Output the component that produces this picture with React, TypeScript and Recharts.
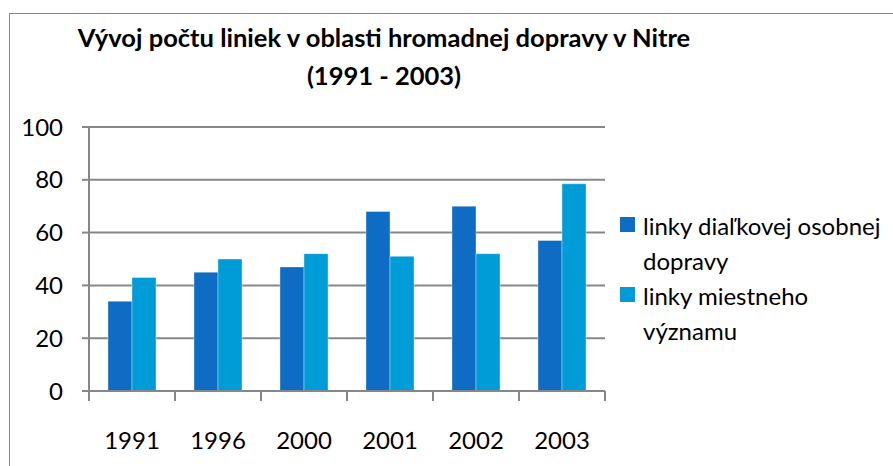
import React from "react";
import { BarChart, Bar, XAxis, YAxis, CartesianGrid, Legend } from "recharts";

const years = ["1991", "1996", "2000", "2001", "2002", "2003"];
const dialkove = [34, 45, 47, 68, 70, 57];
const miestne = [43, 50, 52, 51, 52, 78.5];
const yTicks = [0, 20, 40, 60, 80, 100];
const seriesNames = ["linky diaľkovej osobnej dopravy", "linky miestneho významu"];
const titleLines = [
  "Vývoj počtu liniek v oblasti hromadnej dopravy v Nitre",
  "(1991 - 2003)",
];

const data = years.map((year, i) => ({
  year,
  dialkove: dialkove[i],
  miestne: miestne[i],
}));

const W = 893;
const H = 466;
const PLOT_LEFT = 89;
const PLOT_TOP = 127;
const PLOT_RIGHT = 605;
const PLOT_BOTTOM = 391;
const GREY = "#878787";
const FONT = "Lato, 'Open Sans', sans-serif";
const COLORS = ["#0F6CC5", "#009CD8"];
const BAND = (PLOT_RIGHT - PLOT_LEFT) / years.length;

// Excel style: tick marks sit between the categories, labels in the middle
const XTick = (props: any) => {
  const { x, y, payload, index } = props;
  const last = index === years.length - 1;
  return (
    <g>
      <line
        x1={x - BAND / 2}
        x2={x - BAND / 2}
        y1={PLOT_BOTTOM}
        y2={PLOT_BOTTOM + 10}
        stroke={GREY}
        strokeWidth={2}
      />
      {last && (
        <line
          x1={x + BAND / 2}
          x2={x + BAND / 2}
          y1={PLOT_BOTTOM}
          y2={PLOT_BOTTOM + 10}
          stroke={GREY}
          strokeWidth={2}
        />
      )}
      <text
        x={x}
        y={y}
        dy="0.71em"
        textAnchor="middle"
        fill="#000"
        fontSize={24}
        fontFamily={FONT}
      >
        {payload.value}
      </text>
    </g>
  );
};

const LegendContent = (props: any) => {
  const { payload = [] } = props;
  return (
    <div style={{ fontFamily: FONT, fontSize: 24, lineHeight: "35px", color: "#000" }}>
      {payload.map((entry: any) => (
        <div key={entry.value} style={{ display: "flex", alignItems: "flex-start" }}>
          <span
            style={{
              width: 15,
              height: 15,
              background: entry.color,
              marginTop: 9,
              marginRight: 8,
              flexShrink: 0,
            }}
          />
          <span style={{ width: 250 }}>{entry.value}</span>
        </div>
      ))}
    </div>
  );
};

export default function App() {
  return (
    <div
      style={{
        position: "absolute",
        left: 0,
        top: 0,
        width: W,
        height: H,
        overflow: "hidden",
        background: "#fff",
      }}
    >
      <div
        style={{
          position: "absolute",
          left: 9,
          top: 13,
          width: W,
          height: H,
          borderLeft: `1px solid ${GREY}`,
          borderTop: `1px solid ${GREY}`,
        }}
      />
      {titleLines.map((line, i) => (
        <div
          key={line}
          style={{
            position: "absolute",
            left: 34,
            width: 700,
            top: 18 + i * 38,
            lineHeight: "38px",
            textAlign: "center",
            fontFamily: FONT,
            fontWeight: 700,
            fontSize: 25.5,
            color: "#000",
          }}
        >
          {line}
        </div>
      ))}
      <BarChart
        width={W}
        height={H}
        data={data}
        margin={{ top: PLOT_TOP, right: W - PLOT_RIGHT, bottom: 0, left: 0 }}
        barCategoryGap={19}
        barGap={0}
      >
        <CartesianGrid vertical={false} stroke={GREY} strokeWidth={2} />
        <XAxis
          dataKey="year"
          height={H - PLOT_BOTTOM}
          axisLine={{ stroke: GREY, strokeWidth: 2 }}
          tickLine={false}
          tickSize={10}
          tickMargin={31}
          interval={0}
          tick={<XTick />}
        />
        <YAxis
          width={PLOT_LEFT}
          domain={[0, 100]}
          ticks={yTicks}
          interval={0}
          axisLine={{ stroke: GREY, strokeWidth: 2 }}
          tickLine={{ stroke: GREY, strokeWidth: 2 }}
          tickSize={7}
          tickMargin={19}
          tick={{ fill: "#000", fontSize: 24, fontFamily: FONT }}
        />
        <Legend
          layout="vertical"
          align="center"
          verticalAlign="middle"
          wrapperStyle={{ left: 620, top: 208, width: 275 }}
          content={<LegendContent />}
        />
        <Bar
          dataKey="dialkove"
          name={seriesNames[0]}
          fill={COLORS[0]}
          stroke="rgba(255,255,255,0.35)"
          strokeWidth={1}
          isAnimationActive={false}
        />
        <Bar
          dataKey="miestne"
          name={seriesNames[1]}
          fill={COLORS[1]}
          stroke="rgba(255,255,255,0.35)"
          strokeWidth={1}
          isAnimationActive={false}
        />
      </BarChart>
    </div>
  );
}
